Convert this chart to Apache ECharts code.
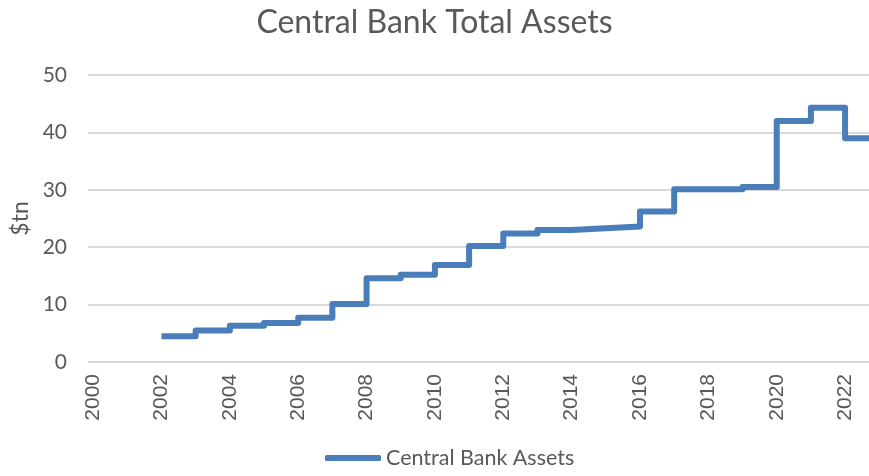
<!DOCTYPE html>
<html>
<head>
<meta charset="utf-8">
<script src="https://cdn.jsdelivr.net/npm/echarts@6/dist/echarts.min.js"></script>
<style>
html,body{margin:0;padding:0;background:#fff;}
#chart{width:869px;height:476px;}
</style>
</head>
<body>
<div id="chart"></div>
<script>
const title = 'Central Bank Total Assets';
const seriesName = 'Central Bank Assets';
const yAxisName = '$tn';
const years = [2002, 2003, 2004, 2005, 2006, 2007, 2008, 2009, 2010, 2011, 2012, 2013, 2014, 2015, 2016, 2017, 2018, 2019, 2020, 2021, 2022, 2023];
const assets = [4.5, 5.5, 6.3, 6.8, 7.7, 10.1, 14.6, 15.2, 16.9, 20.2, 22.4, 23.0, 23.3, 23.6, 26.2, 30.1, 30.1, 30.5, 42.0, 44.3, 39.0, 39.0];
const xTickLabels = [2000, 2002, 2004, 2006, 2008, 2010, 2012, 2014, 2016, 2018, 2020, 2022];
const yTicks = [0, 10, 20, 30, 40, 50];

const chart = echarts.init(document.getElementById('chart'));
const textColor = '#595959';
chart.setOption({
  animation: false,
  backgroundColor: '#ffffff',
  title: {
    text: title,
    left: 'center',
    top: 2,
    textStyle: {fontFamily: 'Lato', fontSize: 32, fontWeight: 'normal', color: textColor}
  },
  legend: {
    bottom: 2,
    left: 320,
    itemWidth: 56,
    itemHeight: 6,
    icon: 'roundRect',
    itemGap: 10,
    textStyle: {fontFamily: 'Lato', fontSize: 21.5, color: textColor},
    data: [seriesName]
  },
  grid: {left: 88, right: 0, top: 75, bottom: 114, containLabel: false},
  xAxis: {
    type: 'value',
    min: 1999.85,
    max: 2022.7,
    axisLine: {show: false},
    axisTick: {show: false},
    splitLine: {show: false},
    axisLabel: {
      customValues: xTickLabels,
      rotate: 90,
      margin: 12,
      fontFamily: 'Liberation Sans',
      fontSize: 21,
      color: textColor,
      formatter: v => String(v)
    }
  },
  yAxis: {
    type: 'value',
    min: yTicks[0],
    max: yTicks[yTicks.length - 1],
    interval: 10,
    name: yAxisName,
    nameLocation: 'middle',
    nameGap: 54,
    nameRotate: 90,
    nameTextStyle: {fontFamily: 'Lato', fontSize: 23, color: textColor},
    axisLine: {show: false},
    axisTick: {show: false},
    splitLine: {lineStyle: {color: '#d9d9d9', width: 2}},
    axisLabel: {
      margin: 21,
      fontFamily: 'Lato',
      fontSize: 21,
      color: textColor
    }
  },
  series: [{
    name: seriesName,
    type: 'line',
    step: 'end',
    showSymbol: false,
    symbol: 'none',
    color: '#4a7ebb',
    lineStyle: {width: 6, color: '#4a7ebb', join: 'round'},
    data: years.map((y, i) => [y, assets[i]])
  }]
});
</script>
</body>
</html>
